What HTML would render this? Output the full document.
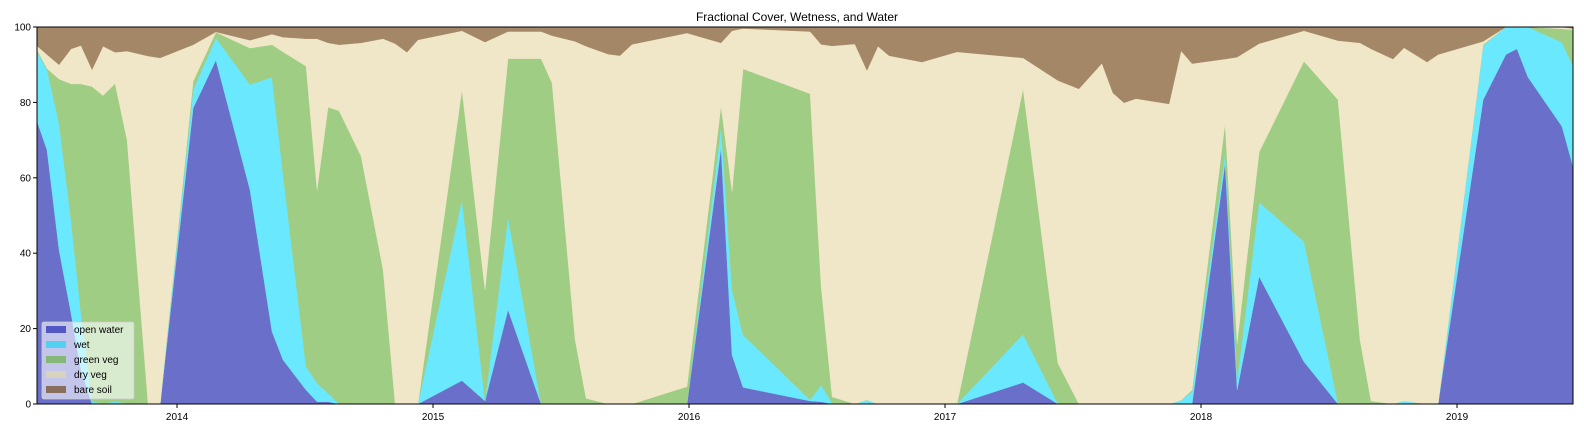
<!DOCTYPE html>
<html><head><meta charset="utf-8"><style>
html,body{margin:0;padding:0;background:#fff;}
svg{display:block;font-family:"Liberation Sans","DejaVu Sans",sans-serif;}
</style></head><body>
<svg id="chart" width="1584" height="432" viewBox="0 0 1584 432" xmlns="http://www.w3.org/2000/svg">
<text x="797" y="21" text-anchor="middle" font-size="12" fill="#000">Fractional Cover, Wetness, and Water</text>
<g id="areas"></g>
<g id="axes"></g>
<g id="legend"></g>
</svg>
<script>
const dates = [2013.453,2013.492,2013.539,2013.586,2013.625,2013.668,2013.711,2013.758,2013.805,2013.887,2013.934,2014.063,2014.152,2014.285,2014.371,2014.414,2014.504,2014.547,2014.590,2014.633,2014.719,2014.805,2014.852,2014.898,2014.941,2015.113,2015.203,2015.293,2015.422,2015.465,2015.555,2015.598,2015.684,2015.730,2015.777,2015.992,2016.125,2016.168,2016.211,2016.473,2016.516,2016.559,2016.648,2016.695,2016.738,2016.781,2016.910,2017.047,2017.305,2017.441,2017.523,2017.613,2017.656,2017.699,2017.746,2017.875,2017.922,2017.965,2018.094,2018.141,2018.227,2018.402,2018.535,2018.621,2018.664,2018.750,2018.793,2018.883,2018.926,2019.102,2019.191,2019.234,2019.277,2019.410,2019.453];
const openWater = [75,67.4,40.9,24,9,0,0,0,0,0,0,78.5,91.2,56.8,19.2,11.7,3.7,0.6,0.6,0,0,0,0,0,0,6.2,0.8,25,0,0,0,0,0,0,0,0,67.9,13,4.4,0.8,0.6,0,0,0,0,0,0,0,5.7,0,0,0,0,0,0,0,0,0,63.9,3.7,33.8,11.2,0,0,0,0,0,0,0,80.7,92.7,94.2,86.7,73.6,63];
const wet = [18.5,21.3,33.6,24.8,15,0.6,0.2,0.6,0.2,0,0,4.9,5.9,27.9,67.5,49.3,6.2,4.9,2.2,0,0,0,0,0,0,48,0,24.6,0,0,0,0,0,0,0,0,5.6,17.3,13.9,0.3,4.4,0.2,0,1.1,0,0,0,0,12.8,0,0,0,0,0,0,0,1,3.3,2.6,2.7,19.7,31.9,0.2,0,0,0,0.8,0,0,14.3,7.3,5.8,13.3,22.3,26.6];
const greenVeg = [0.5,0.3,11.7,36.1,60.9,83.6,81.6,84.4,69.8,0,0,2.2,1.5,9.7,8.6,32.4,79.7,51.3,75.9,77.8,65.7,35.6,0,0,0,29.2,29.5,42,91.6,85.1,17,1.5,0,0,0,4.6,5.6,26.1,70.6,81.2,26.2,1.7,0,0,0,0,0,0,65.1,10.8,0,0,0,0,0,0,0,0.4,8,9.7,13.3,47.8,80.5,17,0.8,0,0,0,0,0.3,0,0,0,3.6,9.7];
const dryVeg = [1,3.7,3.8,9.3,10.2,4.5,13.1,8.3,23.6,92.3,91.8,9.7,0.1,2.1,2.8,3.9,7.3,40.1,17.1,17.5,30.1,61.3,95.6,93.3,96.6,15.6,65.7,7.2,7.2,12.6,79.2,93.4,92.8,92.4,95.4,93.8,16.7,42.6,10.7,16.5,64.2,93.1,95.5,87.4,94.9,92.4,90.7,93.4,8.2,75,83.6,90.4,82.5,79.9,81,79.6,92.7,86.6,17,75.9,28.8,8.1,15.7,78.8,93.4,91.5,93.7,90.7,92.7,0.9,0,0,0,0.5,0.3];
const bareSoil = [5,7.3,10,5.8,4.9,11.3,5.1,6.7,6.4,7.7,8.2,4.7,1.3,3.5,1.9,2.7,3.1,3.1,4.2,4.7,4.2,3.1,4.4,6.7,3.4,1,4,1.2,1.2,2.3,3.8,5.1,7.2,7.6,4.6,1.6,4.2,1,0.4,1.2,4.6,5,4.5,11.5,5.1,7.6,9.3,6.6,8.2,14.2,16.4,9.6,17.5,20.1,19,20.4,6.3,9.7,8.5,8,4.4,1,3.6,4.2,5.8,8.5,5.5,9.3,7.3,3.8,0,0,0,0,0.4];
const seriesNames = ["open water","wet","green veg","dry veg","bare soil"];
const yTicks = [0,20,40,60,80,100];
const xTicks = [2014,2015,2016,2017,2018,2019];

const NS="http://www.w3.org/2000/svg";
const L=37,R=1573,T=27,B=404, X0=2013.453, X1=2019.453;
function xs(v){return L+(v-X0)/(X1-X0)*(R-L);}
function ys(v){return B-v/100*(B-T);}
const fills=["#6a6fca","#69e8fe","#9fcd84","#f0e6c8","#a38766"];
const legendFills=["#5257c3","#52d0f2","#85b878","#d8d2c0","#8a6e5c"];
const series=[openWater,wet,greenVeg,dryVeg,bareSoil];
const areas=document.getElementById('areas');
let base=dates.map(()=>0);
series.forEach((s,k)=>{
  const top=base.map((b,i)=>b+s[i]);
  let d="M"+dates.map((t,i)=>xs(t).toFixed(2)+","+ys(top[i]).toFixed(2)).join("L");
  for(let i=dates.length-1;i>=0;i--) d+="L"+xs(dates[i]).toFixed(2)+","+ys(base[i]).toFixed(2);
  d+="Z";
  const p=document.createElementNS(NS,'path');
  p.setAttribute('d',d);p.setAttribute('fill',fills[k]);
  p.setAttribute('stroke',fills[k]);p.setAttribute('stroke-width','0.4');
  
  
  areas.appendChild(p);
  base=top;
});
const axes=document.getElementById('axes');
const frame=document.createElementNS(NS,'rect');
frame.setAttribute('x',L);frame.setAttribute('y',T);frame.setAttribute('width',R-L);frame.setAttribute('height',B-T);
frame.setAttribute('fill','none');frame.setAttribute('stroke','#000');frame.setAttribute('stroke-width','1');


axes.appendChild(frame);
yTicks.forEach(v=>{
  const y=ys(v);
  const ln=document.createElementNS(NS,'line');
  ln.setAttribute('x1',L-4);ln.setAttribute('x2',L);ln.setAttribute('y1',y);ln.setAttribute('y2',y);ln.setAttribute('stroke','#000');
  
  
  axes.appendChild(ln);
  const tx=document.createElementNS(NS,'text');
  tx.setAttribute('x',L-6);tx.setAttribute('y',y+3.5);tx.setAttribute('text-anchor','end');tx.setAttribute('font-size','10');
  tx.textContent=v;
  
  
  axes.appendChild(tx);
});
xTicks.forEach(v=>{
  const x=xs(v);
  const ln=document.createElementNS(NS,'line');
  ln.setAttribute('x1',x);ln.setAttribute('x2',x);ln.setAttribute('y1',B);ln.setAttribute('y2',B+4);ln.setAttribute('stroke','#000');
  
  
  axes.appendChild(ln);
  const tx=document.createElementNS(NS,'text');
  tx.setAttribute('x',x);tx.setAttribute('y',B+16);tx.setAttribute('text-anchor','middle');tx.setAttribute('font-size','10');
  tx.textContent=v;
  
  
  axes.appendChild(tx);
});
const lg=document.getElementById('legend');
const box=document.createElementNS(NS,'rect');
box.setAttribute('x',42);box.setAttribute('y',322);box.setAttribute('width',92);box.setAttribute('height',77);box.setAttribute('rx',2);
box.setAttribute('fill','rgba(255,255,255,0.6)');box.setAttribute('stroke','#ccc');box.setAttribute('stroke-width','0.8');


lg.appendChild(box);
seriesNames.forEach((n,k)=>{
  const y=326+k*15;
  const r=document.createElementNS(NS,'rect');
  r.setAttribute('x',46);r.setAttribute('y',y);r.setAttribute('width',20);r.setAttribute('height',7);r.setAttribute('fill',legendFills[k]);
  
  
  lg.appendChild(r);
  const t=document.createElementNS(NS,'text');
  t.setAttribute('x',74);t.setAttribute('y',y+7);t.setAttribute('font-size','10');t.textContent=n;
  
  
  lg.appendChild(t);
});
</script>
</body></html>
